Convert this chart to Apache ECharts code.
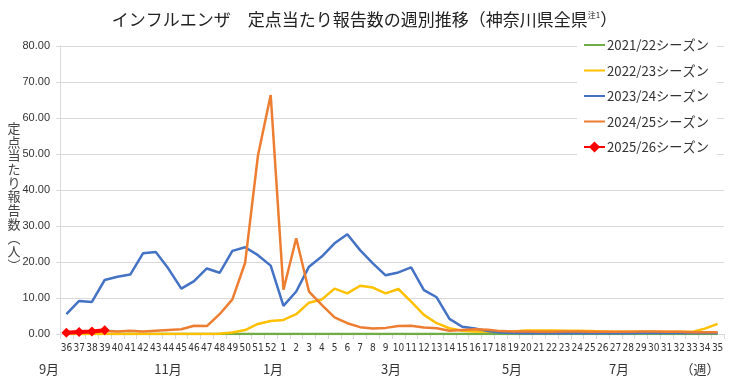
<!DOCTYPE html>
<html>
<head>
<meta charset="utf-8">
<script src="https://cdn.jsdelivr.net/npm/echarts@6/dist/echarts.min.js"></script>
<style>
html,body{margin:0;padding:0;background:#fff;}
#c{width:729px;height:383px;}
</style>
</head>
<body>
<div id="c"></div>
<script>
const weeks = ['36','37','38','39','40','41','42','43','44','45','46','47','48','49','50','51','52',
  '1','2','3','4','5','6','7','8','9','10','11','12','13','14','15','16','17','18','19','20',
  '21','22','23','24','25','26','27','28','29','30','31','32','33','34','35'];

const s2021 = [0,0,0,0,0,0,0,0,0,0,0,0,0,0,0,0,0,
  0,0,0,0,0,0,0,0,0,0,0,0,0,0,0,0,0,0,0,0,
  0,0,0,0,0,0,0,0,0,0,0,0,0,0,0];

const s2022 = [0,0,0,0,0,0,0,0,0,0,0,0,0.05,0.4,1.1,2.8,3.6,
  3.9,5.5,8.7,9.6,12.6,11.3,13.4,12.9,11.3,12.5,9.0,5.3,3.0,1.6,0.9,0.7,0.6,0.6,0.7,1.0,
  1.0,1.0,0.9,0.9,0.8,0.7,0.6,0.6,0.6,0.6,0.6,0.6,0.6,1.5,2.8];

const s2023 = [5.5,9.2,8.9,15.0,15.9,16.5,22.4,22.8,18.1,12.6,14.7,18.2,17.0,23.1,24.1,21.9,19.0,
  7.8,11.8,18.7,21.5,25.2,27.7,23.3,19.6,16.3,17.1,18.5,12.2,10.2,4.2,2.0,1.5,0.8,0.4,0.3,0.2,
  0.2,0.2,0.2,0.2,0.2,0.2,0.2,0.2,0.3,0.3,0.3,0.3,0.3,0.3,0.3];

const s2024 = [0.5,0.6,0.6,0.9,0.7,0.9,0.7,0.9,1.1,1.3,2.3,2.2,5.5,9.6,19.8,49.5,66.4,
  12.3,26.6,11.8,8.1,4.6,3.0,1.9,1.5,1.7,2.2,2.3,1.8,1.6,0.9,1.1,1.3,1.2,0.8,0.7,0.7,
  0.6,0.6,0.7,0.7,0.6,0.6,0.6,0.6,0.7,0.7,0.6,0.6,0.5,0.5,0.5];

const s2025 = [0.35,0.55,0.72,1.05];

const seriesNames = ['2021/22シーズン','2022/23シーズン','2023/24シーズン','2024/25シーズン','2025/26シーズン'];
const yTicks = [0,10,20,30,40,50,60,70,80];
const monthLabels = [['9月',49],['11月',168],['1月',273],['3月',391],['5月',512],['7月',619],['（週）',700]];
const yName = ['定','点','当','た','り','報','告','数','︵','人','︶'];

const FONT = '"Noto Sans CJK JP", "Liberation Sans", sans-serif';
const chart = echarts.init(document.getElementById('c'), null, {renderer:'canvas'});

function lineSeries(name, data, color, width) {
  return {
    name: name, type: 'line', data: data, symbol: 'none', showSymbol: false,
    lineStyle: {color: color, width: width}, itemStyle: {color: color},
    animation: false, z: 3
  };
}

chart.setOption({
  animation: false,
  backgroundColor: '#fff',
  title: {
    text: '{a|インフルエンザ　定点当たり報告数の週別推移（神奈川県全県}{s|注1}{a|）}',
    left: 'center', top: 6,
    textStyle: {
      rich: {
        a: {fontSize: 17, color: '#222', fontFamily: FONT, fontWeight: 'normal'},
        s: {fontSize: 8, color: '#222', fontFamily: FONT, fontWeight: 'normal', verticalAlign: 'top', padding: [0,0,10,0]}
      }
    }
  },
  legend: {
    orient: 'vertical', left: 577, top: 35,
    itemWidth: 21, itemHeight: 14, itemGap: 11.5,
    backgroundColor: '#fff',
    padding: [3, 8, 3, 6],
    textStyle: {fontSize: 13.2, color: '#333', fontFamily: FONT, lineHeight: 14, padding: [0,0,0,-3]},
    data: seriesNames.map(function (n, i) {
      return i < 4 ? {name: n, itemStyle: {opacity: 0}} : {name: n};
    })
  },
  grid: {left: 60, right: 5, top: 46, bottom: 49, containLabel: false},
  xAxis: {
    type: 'category', data: weeks, boundaryGap: true,
    axisLine: {lineStyle: {color: '#d9d9d9', width: 1}},
    axisTick: {show: true, length: 5, interval: 0, lineStyle: {color: '#d9d9d9'}},
    axisLabel: {interval: 0, fontSize: 10, color: '#333', margin: 9,
      fontFamily: '"DejaVu Sans Condensed", "Liberation Sans", sans-serif'}
  },
  yAxis: {
    type: 'value', min: 0, max: 80, interval: 10,
    axisLine: {show: true, lineStyle: {color: '#d9d9d9'}},
    axisTick: {show: true, length: 4, lineStyle: {color: '#d9d9d9'}},
    splitLine: {lineStyle: {color: '#d9d9d9', width: 1}},
    axisLabel: {fontSize: 11, color: '#333', margin: 10,
      fontFamily: '"Liberation Sans", sans-serif',
      formatter: function (v) { return v.toFixed(2); }}
  },
  series: [
    lineSeries(seriesNames[0], s2021, '#70AD47', 2.5),
    lineSeries(seriesNames[1], s2022, '#FFC000', 2.5),
    lineSeries(seriesNames[2], s2023, '#4472C4', 2.5),
    lineSeries(seriesNames[3], s2024, '#ED7D31', 2.5),
    {
      name: seriesNames[4], type: 'line', data: s2025,
      symbol: 'diamond', symbolSize: 10, showSymbol: true,
      lineStyle: {color: '#FF0000', width: 4}, itemStyle: {color: '#FF0000'},
      animation: false, z: 5
    }
  ],
  graphic: monthLabels.map(function (m) {
    return {type: 'text', x: m[1], y: 369, style: {text: m[0], fontSize: 13, fill: '#333',
      fontFamily: FONT, align: 'center', verticalAlign: 'middle'}};
  }).concat(yName.map(function (ch, i) {
    return {type: 'text', x: 14, y: 128 + i * 13.7, style: {text: ch, fontSize: 13, fill: '#444',
      fontFamily: FONT, align: 'center', verticalAlign: 'middle'}};
  }))
});
</script>
</body>
</html>
